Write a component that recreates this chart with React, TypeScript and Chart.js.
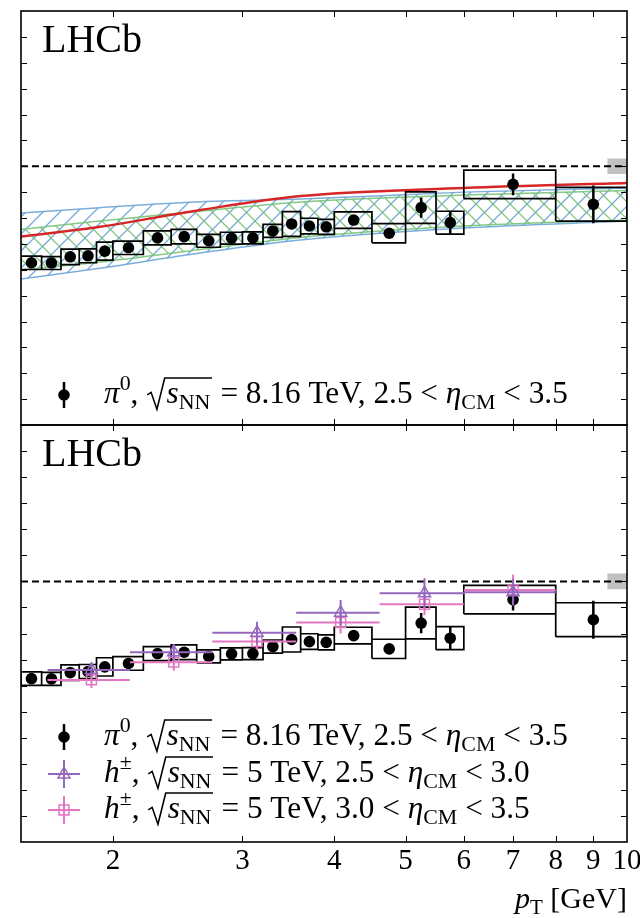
import React, { useEffect, useRef } from 'react';
import { Chart, registerables } from 'chart.js';
Chart.register(...registerables);

// ---------------- data ----------------
const pi0BinEdges = [1.5, 1.6, 1.7, 1.8, 1.9, 2.0, 2.2, 2.4, 2.6, 2.8, 3.0, 3.2, 3.4, 3.6, 3.8, 4.0, 4.5, 5.0, 5.5, 6.0, 8.0, 10.0];
const pi0RpPb = [0.627, 0.626, 0.650, 0.654, 0.672, 0.685, 0.723, 0.728, 0.712, 0.722, 0.723, 0.750, 0.777, 0.769, 0.766, 0.792, 0.741, 0.840, 0.782, 0.930, 0.853];
const pi0Stat = [0.006, 0.006, 0.006, 0.006, 0.006, 0.007, 0.007, 0.007, 0.008, 0.008, 0.009, 0.010, 0.011, 0.012, 0.013, 0.016, 0.018, 0.039, 0.043, 0.042, 0.073];
const pi0Syst = [0.026, 0.025, 0.030, 0.027, 0.035, 0.026, 0.027, 0.028, 0.025, 0.023, 0.023, 0.025, 0.048, 0.030, 0.029, 0.032, 0.037, 0.061, 0.044, 0.055, 0.065];

const hBinEdges = [1.63, 2.11, 2.73, 3.55, 4.61, 6.0, 8.0];
const hEta1RpPb = [0.660, 0.728, 0.803, 0.880, 0.954, 0.958];
const hEta1Err = [0.028, 0.032, 0.042, 0.049, 0.058, 0.050];
const hEta2RpPb = [0.622, 0.690, 0.769, 0.842, 0.912, 0.967];
const hEta2Err = [0.031, 0.033, 0.030, 0.042, 0.042, 0.058];

const modelPt = [1.5, 1.92, 2.63, 3.6, 6.0, 10.0];
const bandBlueUpper = [0.819, 0.840, 0.863, 0.873, 0.900, 0.916];
const bandBlueLower = [0.564, 0.606, 0.665, 0.715, 0.761, 0.788];
const bandGreenUpper = [0.756, 0.788, 0.827, 0.862, 0.889, 0.906];
const bandGreenLower = [0.599, 0.630, 0.678, 0.725, 0.769, 0.792];
const modelRed = [0.728, 0.766, 0.831, 0.885, 0.916, 0.935];

const unityPt = [1.5, 10.0];
const unityLevel = 1.0;
const normBoxPt = [9.4, 10.0];
const normUnc = 0.03;

const xTickValues = [2, 3, 4, 5, 6, 7, 8, 9, 10];
const xTickLabels = ['2', '3', '4', '5', '6', '7', '8', '9', '10'];
const yTickValues = [0.1, 0.2, 0.3, 0.4, 0.5, 0.6, 0.7, 0.8, 0.9, 1.0, 1.1, 1.2, 1.3, 1.4, 1.5];
const xMin = 1.5;
const xMax = 10;
const yMin = 0;
const yMax = 1.6;

type Seg = { k: 'n' | 'i' | 'sub' | 'sup'; t: string } | { k: 'sqrt'; inner: Seg[] };
const legendPi0: Seg[] = [
  { k: 'i', t: 'π' }, { k: 'sup', t: '0' }, { k: 'n', t: ', ' },
  { k: 'sqrt', inner: [{ k: 'i', t: 's' }, { k: 'sub', t: 'NN' }] },
  { k: 'n', t: ' = 8.16 TeV, 2.5 < ' }, { k: 'i', t: 'η' }, { k: 'sub', t: 'CM' }, { k: 'n', t: ' < 3.5' },
];
const legendH1: Seg[] = [
  { k: 'i', t: 'h' }, { k: 'sup', t: '±' }, { k: 'n', t: ', ' },
  { k: 'sqrt', inner: [{ k: 'i', t: 's' }, { k: 'sub', t: 'NN' }] },
  { k: 'n', t: ' = 5 TeV, 2.5 < ' }, { k: 'i', t: 'η' }, { k: 'sub', t: 'CM' }, { k: 'n', t: ' < 3.0' },
];
const legendH2: Seg[] = [
  { k: 'i', t: 'h' }, { k: 'sup', t: '±' }, { k: 'n', t: ', ' },
  { k: 'sqrt', inner: [{ k: 'i', t: 's' }, { k: 'sub', t: 'NN' }] },
  { k: 'n', t: ' = 5 TeV, 3.0 < ' }, { k: 'i', t: 'η' }, { k: 'sub', t: 'CM' }, { k: 'n', t: ' < 3.5' },
];
const axisTitle: Seg[] = [{ k: 'i', t: 'p' }, { k: 'sub', t: 'T' }, { k: 'n', t: ' [GeV]' }];
const experimentLabel = 'LHCb';

// ---------------- style ----------------
const FONT = '"Liberation Serif", "DejaVu Serif", serif';
const PURPLE = '#9467bd';
const PINK = '#e377c2';
const RED = '#d62728';
const BLUE_EDGE = 'rgba(110,165,215,0.9)';
const GREEN_EDGE = 'rgba(120,195,120,0.9)';

// ---------------- helpers ----------------
const mid = (a: number, b: number) => (a + b) / 2;
type P = { x: number; y: number | null };

function boxes(edges: number[], vals: number[], errs: number[]): P[] {
  const out: P[] = [];
  vals.forEach((v, i) => {
    const lo = edges[i], hi = edges[i + 1], e = errs[i];
    out.push({ x: lo, y: v - e }, { x: hi, y: v - e }, { x: hi, y: v + e }, { x: lo, y: v + e }, { x: lo, y: v - e }, { x: hi, y: null });
  });
  return out;
}
function vBars(edges: number[], vals: number[], errs: number[]): P[] {
  const out: P[] = [];
  vals.forEach((v, i) => {
    const x = mid(edges[i], edges[i + 1]);
    out.push({ x, y: v - errs[i] }, { x, y: v + errs[i] }, { x, y: null });
  });
  return out;
}
function hBars(edges: number[], vals: number[]): P[] {
  const out: P[] = [];
  vals.forEach((v, i) => {
    out.push({ x: edges[i], y: v }, { x: edges[i + 1], y: v }, { x: edges[i + 1], y: null });
  });
  return out;
}
function centers(edges: number[], vals: number[]): P[] {
  return vals.map((v, i) => ({ x: mid(edges[i], edges[i + 1]), y: v }));
}
function curve(xs: number[], ys: number[]): P[] {
  return xs.map((x, i) => ({ x, y: ys[i] }));
}

function makeHatch(color: string, dir: 1 | -1): CanvasPattern | string {
  const s = 17;
  const c = document.createElement('canvas');
  c.width = s; c.height = s;
  const g = c.getContext('2d');
  if (!g) return color;
  g.strokeStyle = color;
  g.lineWidth = 1.3;
  g.beginPath();
  if (dir === 1) {
    g.moveTo(-2, s + 2); g.lineTo(s + 2, -2);
    g.moveTo(-s / 2 - 2, s / 2 + 2); g.lineTo(s / 2 + 2, -s / 2 - 2);
    g.moveTo(s / 2 - 2, s * 1.5 + 2); g.lineTo(s * 1.5 + 2, s / 2 - 2);
  } else {
    g.moveTo(-2, -2); g.lineTo(s + 2, s + 2);
    g.moveTo(-s / 2 - 2, s / 2 - 2); g.lineTo(s / 2 + 2, s * 1.5 + 2);
    g.moveTo(s / 2 - 2, -s / 2 - 2); g.lineTo(s * 1.5 + 2, s / 2 + 2);
  }
  g.stroke();
  return g.createPattern(c, 'repeat') || color;
}

function mathRow(ctx: CanvasRenderingContext2D, x: number, y: number, segs: Seg[], size: number, draw: boolean): number {
  let cx = x;
  for (const s of segs) {
    if (s.k === 'sqrt') {
      const rw = size * 0.62;
      const innerW = mathRow(ctx, 0, 0, s.inner, size, false);
      if (draw) {
        ctx.save();
        ctx.lineWidth = Math.max(1, size * 0.05);
        ctx.strokeStyle = '#000';
        ctx.beginPath();
        ctx.moveTo(cx + rw * 0.05, y - size * 0.26);
        ctx.lineTo(cx + rw * 0.25, y - size * 0.34);
        ctx.lineTo(cx + rw * 0.55, y + size * 0.2);
        ctx.lineTo(cx + rw * 0.95, y - size * 0.8);
        ctx.lineTo(cx + rw + innerW + size * 0.08, y - size * 0.8);
        ctx.stroke();
        ctx.restore();
      }
      mathRow(ctx, cx + rw + size * 0.03, y, s.inner, size, draw);
      cx += rw + innerW + size * 0.1;
    } else {
      const small = s.k === 'sub' || s.k === 'sup';
      const fs = small ? size * 0.7 : size;
      ctx.font = `${s.k === 'i' ? 'italic ' : ''}${fs}px ${FONT}`;
      const dy = s.k === 'sub' ? size * 0.2 : s.k === 'sup' ? -size * 0.4 : 0;
      if (draw) ctx.fillText(s.t, cx, y + dy);
      cx += ctx.measureText(s.t).width;
    }
  }
  return cx - x;
}

function legendSize(ctx: CanvasRenderingContext2D): number {
  const w = mathRow(ctx, 0, 0, legendPi0, 23, false);
  return 23 * 464 / w;
}

function drawPi0Key(ctx: CanvasRenderingContext2D, x: number, y: number) {
  ctx.strokeStyle = '#000'; ctx.fillStyle = '#000'; ctx.lineWidth = 2.5;
  ctx.beginPath(); ctx.moveTo(x, y - 13); ctx.lineTo(x, y + 13); ctx.stroke();
  ctx.beginPath(); ctx.arc(x, y, 5.8, 0, Math.PI * 2); ctx.fill();
}
function drawHKey(ctx: CanvasRenderingContext2D, x: number, y: number, color: string, shape: 'tri' | 'sq') {
  ctx.strokeStyle = color; ctx.lineWidth = 2;
  ctx.beginPath(); ctx.moveTo(x - 16, y); ctx.lineTo(x + 16, y); ctx.moveTo(x, y - 14); ctx.lineTo(x, y + 14); ctx.stroke();
  ctx.lineWidth = 1.5;
  ctx.beginPath();
  if (shape === 'tri') {
    ctx.moveTo(x, y - 7); ctx.lineTo(x + 6, y + 4); ctx.lineTo(x - 6, y + 4); ctx.closePath();
  } else {
    ctx.rect(x - 5, y - 5, 10, 10);
  }
  ctx.stroke();
}

function framePlugin(panel: 'top' | 'bottom') {
  return {
    id: 'frame_' + panel,
    afterDraw(chart: any) {
      const ctx: CanvasRenderingContext2D = chart.ctx;
      const { left, right, top, bottom } = chart.chartArea;
      const xs = chart.scales.x, ys = chart.scales.y;
      ctx.save();
      ctx.strokeStyle = '#000';
      ctx.lineWidth = 1;
      ctx.beginPath();
      for (const v of yTickValues) {
        const py = Math.round(ys.getPixelForValue(v)) + 0.5;
        ctx.moveTo(left, py); ctx.lineTo(left + 6, py);
        ctx.moveTo(right, py); ctx.lineTo(right - 6, py);
      }
      for (const v of xTickValues) {
        if (v >= xMax) continue;
        const px = Math.round(xs.getPixelForValue(v)) + 0.5;
        ctx.moveTo(px, top); ctx.lineTo(px, top + 6);
        ctx.moveTo(px, bottom); ctx.lineTo(px, bottom - 6);
      }
      ctx.stroke();
      ctx.lineWidth = 1.6;
      ctx.strokeRect(left, top, right - left, bottom - top);

      ctx.fillStyle = '#000';
      ctx.textBaseline = 'alphabetic';
      ctx.textAlign = 'left';
      ctx.font = `40px ${FONT}`;
      ctx.fillText(experimentLabel, left + 21, top + 41);

      const size = legendSize(ctx);
      if (panel === 'top') {
        const ly = bottom - 30;
        drawPi0Key(ctx, left + 43, ly);
        ctx.fillStyle = '#000';
        mathRow(ctx, left + 83, ly + 8, legendPi0, size, true);
      } else {
        const rows = [bottom - 105, bottom - 68, bottom - 32];
        drawPi0Key(ctx, left + 43, rows[0]);
        drawHKey(ctx, left + 43, rows[1], PURPLE, 'tri');
        drawHKey(ctx, left + 43, rows[2], PINK, 'sq');
        ctx.fillStyle = '#000';
        mathRow(ctx, left + 83, rows[0] + 8, legendPi0, size, true);
        mathRow(ctx, left + 83, rows[1] + 8, legendH1, size, true);
        mathRow(ctx, left + 83, rows[2] + 8, legendH2, size, true);

        ctx.font = `29px ${FONT}`;
        ctx.textAlign = 'center';
        xTickValues.forEach((v, i) => {
          ctx.fillText(xTickLabels[i], xs.getPixelForValue(v), bottom + 27);
        });
        ctx.textAlign = 'left';
        const tw = mathRow(ctx, 0, 0, axisTitle, 30, false);
        mathRow(ctx, right - tw, bottom + 66, axisTitle, 30, true);
      }
      ctx.restore();
    },
  };
}

function commonOptions(padding: { left: number; right: number; top: number; bottom: number }) {
  return {
    responsive: false,
    animation: false as const,
    events: [] as any[],
    layout: { padding, autoPadding: false },
    plugins: { legend: { display: false }, tooltip: { enabled: false } },
    scales: {
      x: { type: 'logarithmic' as const, min: xMin, max: xMax, display: false },
      y: { type: 'linear' as const, min: yMin, max: yMax, display: false },
    },
    elements: { point: { radius: 0 } },
  };
}

function lineDs(data: P[], color: string, width: number, order: number, extra: any = {}) {
  return { data, borderColor: color, borderWidth: width, pointRadius: 0, fill: false, order, spanGaps: false, tension: 0, ...extra };
}

function unityAndNorm(order: number) {
  return [
    lineDs(curve(unityPt, [unityLevel, unityLevel]), '#000', 2, order, { borderDash: [7, 4] }),
    lineDs(curve(normBoxPt, [unityLevel + normUnc, unityLevel + normUnc]), 'rgba(0,0,0,0)', 0, order,
      { fill: { value: unityLevel - normUnc }, backgroundColor: 'rgba(160,160,160,0.65)' }),
  ];
}

function pi0Datasets() {
  return [
    lineDs(boxes(pi0BinEdges, pi0RpPb, pi0Syst), '#000', 1.7, 20),
    lineDs(vBars(pi0BinEdges, pi0RpPb, pi0Stat), '#000', 2.5, 15),
    {
      data: centers(pi0BinEdges, pi0RpPb), showLine: false, order: 10,
      pointRadius: 5.8, pointStyle: 'circle', pointBackgroundColor: '#000', pointBorderColor: '#000', pointBorderWidth: 0,
    },
  ];
}

export default function App() {
  const topRef = useRef<HTMLCanvasElement>(null);
  const botRef = useRef<HTMLCanvasElement>(null);

  useEffect(() => {
    if (!topRef.current || !botRef.current) return;
    const blueHatch = makeHatch('rgba(90,155,210,0.85)', 1);
    const greenHatch = makeHatch('rgba(110,190,110,0.85)', -1);

    const topChart = new Chart(topRef.current, {
      type: 'line',
      data: {
        datasets: [
          lineDs(curve(modelPt, bandBlueLower), BLUE_EDGE, 1.5, 50, { cubicInterpolationMode: 'monotone' }),
          lineDs(curve(modelPt, bandBlueUpper), BLUE_EDGE, 1.5, 50, { cubicInterpolationMode: 'monotone', fill: '-1', backgroundColor: blueHatch }),
          lineDs(curve(modelPt, bandGreenLower), GREEN_EDGE, 1.5, 45, { cubicInterpolationMode: 'monotone' }),
          lineDs(curve(modelPt, bandGreenUpper), GREEN_EDGE, 1.5, 45, { cubicInterpolationMode: 'monotone', fill: '-1', backgroundColor: greenHatch }),
          lineDs(curve(modelPt, modelRed), RED, 2.5, 30, { cubicInterpolationMode: 'monotone' }),
          ...unityAndNorm(25),
          ...pi0Datasets(),
        ] as any,
      },
      options: commonOptions({ left: 21, right: 13, top: 11, bottom: 2 }) as any,
      plugins: [framePlugin('top')],
    });

    const botChart = new Chart(botRef.current, {
      type: 'line',
      data: {
        datasets: [
          ...unityAndNorm(25),
          ...pi0Datasets(),
          lineDs(hBars(hBinEdges, hEta2RpPb), PINK, 2, 7),
          lineDs(vBars(hBinEdges, hEta2RpPb, hEta2Err), PINK, 2, 7),
          {
            data: centers(hBinEdges, hEta2RpPb), showLine: false, order: 6,
            pointRadius: 7, pointStyle: 'rect', pointBackgroundColor: 'rgba(0,0,0,0)', pointBorderColor: PINK, pointBorderWidth: 1.5,
          },
          lineDs(hBars(hBinEdges, hEta1RpPb), PURPLE, 2, 5),
          lineDs(vBars(hBinEdges, hEta1RpPb, hEta1Err), PURPLE, 2, 5),
          {
            data: centers(hBinEdges, hEta1RpPb), showLine: false, order: 4,
            pointRadius: 7, pointStyle: 'triangle', pointBackgroundColor: 'rgba(0,0,0,0)', pointBorderColor: PURPLE, pointBorderWidth: 1.5,
          },
        ] as any,
      },
      options: commonOptions({ left: 21, right: 13, top: 2, bottom: 76 }) as any,
      plugins: [framePlugin('bottom')],
    });

    return () => {
      topChart.destroy();
      botChart.destroy();
    };
  }, []);

  return (
    <div style={{ position: 'absolute', left: 0, top: 0, width: 640, height: 918, background: '#fff' }}>
      <canvas ref={topRef} width={640} height={427} style={{ position: 'absolute', left: 0, top: 0, width: 640, height: 427 }} />
      <canvas ref={botRef} width={640} height={495} style={{ position: 'absolute', left: 0, top: 423, width: 640, height: 495 }} />
    </div>
  );
}
